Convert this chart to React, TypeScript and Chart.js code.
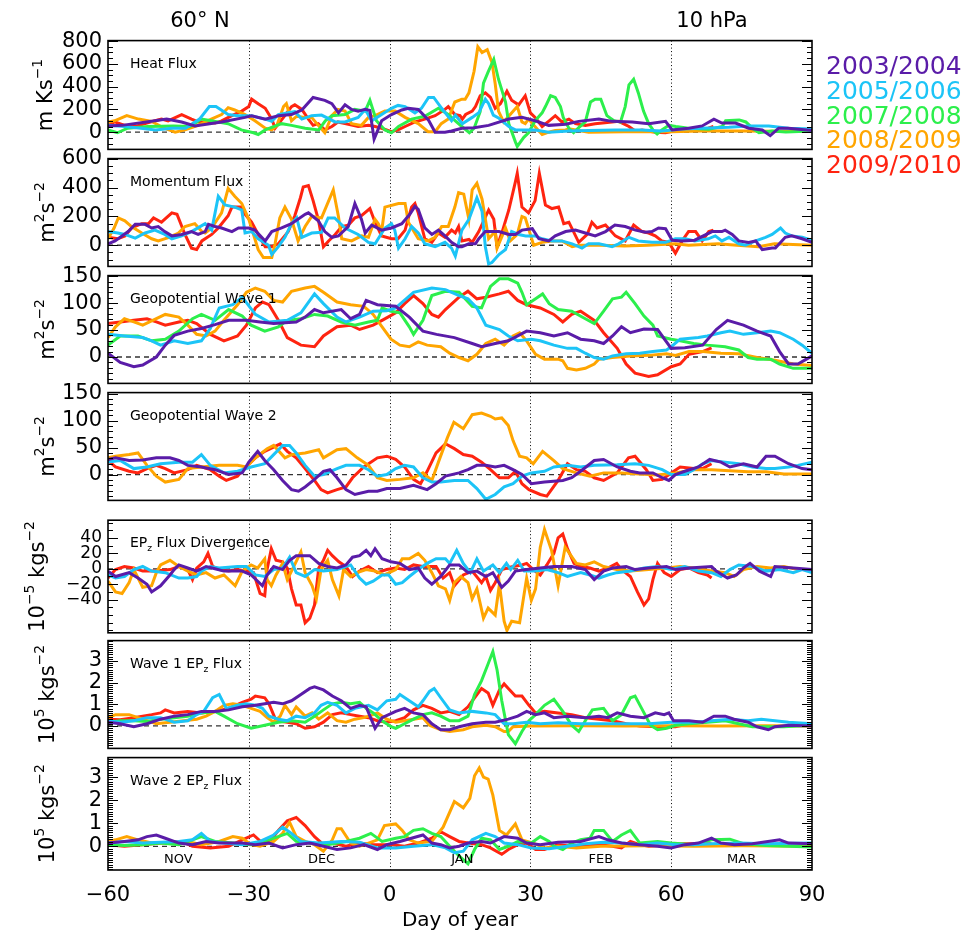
import React, { useEffect, useRef } from 'react';
import { Chart, registerables } from 'chart.js';
Chart.register(...registerables);

type Pt = [number, number];
type Seg = [string, number];

const FONT = 'DejaVu Sans';
const YEARS = ['2003/2004', '2005/2006', '2007/2008', '2008/2009', '2009/2010'];
const COLORS = ['#5a1ca8', '#1cc4f7', '#2cef4c', '#ffa500', '#ff2410'];
const X_TICKS = [-60, -30, 0, 30, 60, 90];
const DOTTED_DAYS = [-30, 0, 30, 60];
const MONTHS = ['NOV', 'DEC', 'JAN', 'FEB', 'MAR'];
const MONTH_DAYS = [-45, -14.5, 15.5, 45, 75];

// ---------- Heat Flux (m K s^-1) ----------
const heatP: Pt[] = [[-60,55],[-57,60],[-50,100],[-47.5,115],[-44.3,90],[-41.5,55],[-35.8,90],[-30.8,130],[-29.4,145],[-26.5,115],[-23.7,145],[-20.9,155],[-18.7,195],[-16.3,305],[-13.8,280],[-12.3,250],[-10.9,170],[-9.5,240],[-8.1,200],[-6.7,185],[-5.2,200],[-4.2,190],[-3.3,-60],[-1.7,100],[0.4,155],[2.6,195],[4,210],[6.1,200],[8.3,105],[9.7,0],[11.8,0],[13.2,10],[15.4,35],[18,40],[21.1,60],[25.4,115],[28.2,130],[31,100],[33.9,60],[37.5,70],[40.3,95],[44.6,115],[47.4,95],[51.7,90],[55.2,75],[58.8,95],[60.2,20],[63.7,35],[66.6,55],[69.1,115],[70.8,80],[73.7,80],[76.5,35],[79.4,20],[81.1,-30],[82.9,35],[85,35],[90,15]];
const heatC: Pt[] = [[-60,60],[-56.5,50],[-53,35],[-49.9,20],[-46.4,35],[-43.5,35],[-40.5,115],[-38.4,225],[-37,225],[-34.4,155],[-32.3,145],[-29.4,145],[-26.5,115],[-25.1,95],[-23.7,155],[-21.6,170],[-20.2,180],[-18.7,115],[-16.6,145],[-14.5,150],[-11.6,90],[-9.5,90],[-6.7,130],[-5.2,200],[-3.8,100],[-1.7,155],[0.4,210],[1.8,235],[3.3,225],[5.4,170],[6.8,210],[8.3,305],[9.4,305],[11.1,210],[13.2,100],[14,150],[15.5,75],[17.6,130],[19,170],[20.4,290],[21.1,250],[22.1,150],[23.2,125],[25.4,50],[26.8,20],[31,20],[33.9,0],[38.2,10],[42.4,15],[48,20],[53.7,20],[58,10],[62.3,27],[66.6,35],[72.3,43],[76.5,55],[80.8,55],[85,35],[90,27]];
const heatG: Pt[] = [[-60,20],[-58,-5],[-55.8,35],[-51.5,50],[-46,55],[-42.5,50],[-40.1,115],[-38,100],[-34.4,75],[-31.6,20],[-29,-5],[-28,-20],[-26.5,20],[-23,75],[-20.9,60],[-18,35],[-15.1,20],[-13.7,100],[-12.3,145],[-9.5,155],[-7.4,200],[-5.2,185],[-4.2,280],[-2.8,100],[-1,20],[0.4,-5],[1.9,50],[4.7,115],[7.5,140],[10.4,210],[12.5,155],[14,100],[15.4,50],[17,-5],[18,35],[19.3,180],[20,430],[21,530],[22.2,640],[23.2,465],[24.7,265],[25.4,75],[26.8,-85],[27.2,-125],[28.6,-45],[29.6,-5],[31,100],[32.5,170],[33.2,225],[34.3,320],[35.3,305],[36.4,225],[37,130],[38.2,35],[39.2,-5],[40.3,40],[41.7,90],[42.8,265],[43.8,290],[45,290],[46.3,145],[47.8,100],[49.2,90],[50.2,225],[51,415],[52,465],[53,345],[54.1,185],[55.2,75],[56.3,10],[57,-15],[58,20],[59.5,60],[61,50],[63.7,35],[68,25],[70.9,50],[71.6,100],[74.5,108],[75.9,90],[77.3,35],[78.7,-5],[81.5,10],[84.4,2],[90,10]];
const heatO: Pt[] = [[-60,90],[-58.6,100],[-56,145],[-53.5,115],[-50.7,95],[-48,35],[-45.7,0],[-43.6,20],[-40.8,60],[-38,115],[-35.8,155],[-34.4,215],[-33,195],[-30.8,155],[-28.7,100],[-26.5,35],[-25.1,20],[-24,60],[-22.6,225],[-22,250],[-20.9,100],[-19.8,140],[-18,130],[-16.6,130],[-15.2,60],[-13.8,-5],[-12.3,145],[-11,200],[-9.5,185],[-8.1,75],[-6,60],[-4.5,130],[-3.1,145],[-1,185],[1.2,185],[3.3,130],[6.1,75],[8.2,5],[9.7,5],[11,75],[12.5,115],[13.9,265],[15.4,290],[16.1,290],[16.9,345],[18,535],[18.8,750],[19.7,700],[20.8,725],[21.8,615],[22.5,425],[23.2,185],[24.3,90],[25.7,155],[27.2,225],[28.2,90],[28.9,75],[29.6,115],[31.8,10],[32.5,-20],[33.9,0],[35.3,15],[37.5,20],[38.2,30],[40.3,15],[42.4,0],[50,5],[60,5],[66.5,10],[75,10],[82,8],[90,8]];
const heatR: Pt[] = [[-60,60],[-58.6,90],[-56.4,60],[-54.2,50],[-52.1,75],[-50,100],[-48.6,115],[-47.2,100],[-44.3,155],[-42.2,115],[-40.8,90],[-39.4,90],[-37.2,80],[-35.8,100],[-33.6,145],[-31.5,185],[-30,225],[-29.4,290],[-28,250],[-26.5,210],[-25.1,115],[-24.4,35],[-22.6,130],[-20.9,225],[-20.2,240],[-18.7,200],[-17.3,115],[-16.3,60],[-15.2,75],[-13.8,20],[-12.3,50],[-11,90],[-9.5,75],[-6.7,50],[-4.5,60],[-3.1,50],[-1.7,35],[0.4,5],[1.8,20],[3.3,50],[5.4,90],[7.5,115],[9.7,145],[11.8,200],[12.5,225],[13.9,155],[15,145],[15.5,115],[16.2,155],[17.6,185],[18.3,225],[19.3,320],[20.4,345],[21.5,305],[22.5,210],[23.6,250],[25,360],[26,280],[27.5,240],[28.9,320],[30,170],[31,130],[32.5,50],[34,100],[35.3,145],[36.7,90],[38.2,115],[39.6,75],[41.7,60],[43.8,75],[47.4,90],[48.8,95],[51,50],[52.4,8],[53.8,20],[56.6,0],[58.8,-5],[61,15],[63.7,25],[65.1,20],[67.9,35],[69,50]];

// ---------- Momentum Flux (m^2 s^-2) ----------
const momP: Pt[] = [[-60,10],[-58.5,30],[-55.7,95],[-54.2,145],[-52.1,145],[-50.7,120],[-49.3,130],[-47.9,95],[-46.4,65],[-44.3,75],[-42.2,95],[-40.8,75],[-39.3,95],[-38.6,145],[-37.2,130],[-35.8,120],[-33.6,95],[-32.2,120],[-30,120],[-28.7,105],[-26.5,30],[-25.1,95],[-23,120],[-20.9,150],[-18,215],[-17.3,225],[-15.2,170],[-13.8,95],[-12.3,55],[-10.9,65],[-8.8,130],[-7.4,290],[-6,180],[-5.2,85],[-3.8,140],[-1.7,105],[0.4,120],[2.6,150],[4.3,215],[5.4,270],[6.1,250],[7.5,120],[9,75],[10.4,105],[11.8,65],[13.2,20],[14.7,-10],[15.4,-10],[16.9,10],[18.3,10],[19,45],[20.4,95],[23.3,95],[25.4,75],[26.8,75],[28.2,105],[30.4,115],[31.8,45],[33.9,30],[35.3,65],[37.5,95],[39.6,105],[41.7,85],[43.8,65],[46,95],[48,140],[50.2,130],[52.4,105],[54.5,90],[55.9,95],[57.3,120],[58.8,115],[60.2,35],[62.3,30],[65,35],[68.7,95],[70.8,95],[71.5,105],[73,75],[74.4,30],[76.5,20],[78,30],[79.4,-30],[81.5,-20],[82.2,-20],[84.3,55],[85.7,65],[87.9,45],[90,20]];
const momC: Pt[] = [[-60,95],[-57.9,85],[-56.4,75],[-54.2,50],[-52.1,85],[-50,105],[-47.9,75],[-46.4,45],[-44.3,65],[-42.2,95],[-39.3,150],[-37.9,105],[-36.5,340],[-35.1,280],[-33,265],[-31.5,245],[-30.8,85],[-29.4,95],[-28,45],[-25.8,0],[-25.1,-65],[-23.7,-10],[-22.3,55],[-20.9,150],[-19.8,190],[-18.7,55],[-16.6,85],[-14.5,90],[-13.1,190],[-11.7,190],[-9.5,120],[-6.7,75],[-4.5,20],[-3.1,10],[-1,120],[0.4,150],[1.1,105],[1.9,-20],[3.3,45],[4.7,130],[6.1,85],[7.5,10],[9.7,-10],[11.8,20],[13.2,-20],[14,-75],[15.4,105],[16.9,180],[18.6,330],[19.7,235],[20.4,-10],[21.1,-130],[21.8,-120],[23.3,-65],[24.7,-30],[26,95],[27.5,75],[29,65],[31,65],[32.5,45],[34.6,30],[36.7,30],[38.9,10],[41,-20],[42.4,10],[44.6,10],[47.4,-10],[48.8,10],[51,55],[53,30],[55.9,20],[58.8,20],[60.9,45],[63,45],[65,30],[67.9,45],[69.4,65],[70.8,30],[72.3,55],[74.4,10],[75.8,0],[78,30],[80.1,55],[81.5,75],[83.3,120],[84.3,85],[85.7,65],[87.9,55],[90,35]];
const momO: Pt[] = [[-60,45],[-58.7,120],[-57.8,190],[-56.4,170],[-55,130],[-52.8,85],[-50.7,45],[-49.3,30],[-47,55],[-45,85],[-43.6,130],[-41.5,150],[-40,95],[-39.3,85],[-37.9,120],[-35.8,225],[-34.4,395],[-33,340],[-31.5,290],[-30,180],[-28,-30],[-26.9,-85],[-25.1,-85],[-24.4,10],[-23.4,190],[-22.3,265],[-20.9,180],[-19.5,30],[-18,130],[-16.6,200],[-14.5,190],[-12,385],[-10.9,200],[-10.2,45],[-8.1,30],[-6,65],[-4.5,55],[-3.1,180],[-2.4,150],[-1.7,95],[-1,265],[1.9,290],[3.3,290],[4,160],[6.1,45],[8.2,30],[9.7,55],[11.1,130],[12.5,130],[13.9,265],[14.7,365],[15.8,355],[16.9,180],[17.6,385],[18.6,430],[19.7,320],[21.1,45],[22.5,95],[22.9,-20],[24.7,120],[25.7,30],[27.2,75],[28.2,200],[28.9,190],[30.7,0],[32.5,20],[34.6,30],[36.7,30],[38.9,-10],[40.3,0],[45,0],[50,-5],[55,0],[60.9,10],[63.7,0],[70,10],[74,0],[78.6,-10],[82,10],[90,0]];
const momR: Pt[] = [[-60,55],[-57.9,45],[-56.4,65],[-55,120],[-52.8,150],[-51.4,150],[-50.3,190],[-48.6,160],[-46.4,225],[-45.3,215],[-43.6,75],[-42.2,-20],[-41.1,-30],[-40,30],[-37.9,75],[-36.5,120],[-34.4,205],[-33.6,265],[-31.5,265],[-30.8,215],[-29.4,160],[-28,75],[-26.5,-10],[-25.1,-10],[-23.7,10],[-21.6,95],[-20.2,205],[-19,330],[-18.4,405],[-17.3,415],[-16.3,310],[-15.2,180],[-14.1,-10],[-13,30],[-11.6,75],[-10.2,130],[-8.8,140],[-7.4,190],[-6,205],[-4.2,255],[-3.1,160],[-1.7,65],[0.4,45],[1.8,45],[3.3,105],[4,190],[4.7,265],[5.4,290],[6.1,225],[7.5,45],[9,20],[10.4,85],[11.8,55],[13.2,105],[14,85],[14.7,130],[15.4,30],[16.9,40],[17.6,20],[19,95],[21.1,245],[22.2,180],[22.9,-10],[24,95],[25.4,245],[26.8,440],[27.2,500],[28.2,265],[29.6,225],[31,310],[31.9,500],[33.2,280],[34.6,255],[36,265],[37.1,150],[38.2,160],[40.3,20],[42.1,75],[43.1,160],[44.2,120],[46,140],[48.1,65],[50.2,30],[52,140],[53.8,95],[55.2,85],[56.6,65],[58,30],[59.5,20],[60.9,-55],[62.3,30],[63.7,95],[65.2,95],[66.6,30],[68,95],[69,105]];

// ---------- Geopotential Wave 1 (m^2 s^-2) ----------
const gw1P: Pt[] = [[-60,7],[-57.4,-10],[-54.5,-18],[-52.6,-15],[-49.7,0],[-47.8,22],[-45.9,40],[-43,48],[-40.1,53],[-37.2,60],[-34.3,68],[-30.5,68],[-27.6,65],[-24.7,62],[-19.9,65],[-18,74],[-16,88],[-14.1,82],[-10.3,88],[-8.3,71],[-6.4,79],[-5,105],[-2.6,97],[1.3,94],[4.2,74],[7.1,48],[10,42],[13.8,36],[17.6,25],[19.6,19],[22.5,25],[25.3,30],[29.2,48],[32.1,45],[35,39],[37.9,45],[40.7,33],[43.6,30],[45.6,25],[47.5,39],[49.4,56],[51.3,45],[54.2,52],[57.1,51],[60,16],[62.9,17],[66.7,22],[69.6,51],[72,68],[75.4,59],[78.3,48],[81.2,39],[83.1,10],[85,-13],[87,-13],[90,2]];
const gw1C: Pt[] = [[-60,42],[-56.5,39],[-52.6,36],[-50.7,30],[-48.8,22],[-45.9,30],[-43,25],[-40.1,30],[-38.2,53],[-36.3,91],[-33.4,97],[-31.4,111],[-28.6,79],[-25.7,65],[-21.8,68],[-18.9,82],[-16,117],[-14.1,99],[-11.2,74],[-9.3,65],[-6.4,74],[-3.5,85],[-0.6,86],[1.3,91],[5.1,120],[9,128],[11.9,125],[14.8,114],[16.7,108],[18.6,91],[20.5,59],[23.4,51],[25.3,39],[27.3,30],[30.2,33],[32.1,30],[35,22],[37.9,16],[39.8,16],[41.7,7],[43.6,-1],[45.6,-4],[47.5,2],[50.4,6],[53.3,7],[56.1,10],[59,13],[60,19],[61.9,33],[65.8,36],[67.7,39],[70.6,45],[72.5,48],[75.4,42],[78.3,45],[81.2,48],[83.1,45],[86,33],[87.9,22],[90,7]];
const gw1G: Pt[] = [[-60,22],[-57.4,39],[-53.6,39],[-50.7,30],[-47.8,33],[-44.9,48],[-42,71],[-40.1,79],[-37.2,68],[-34.3,88],[-31.4,76],[-29.5,59],[-26.6,48],[-23.7,56],[-21.8,68],[-18.9,71],[-16,79],[-13.2,76],[-10.3,65],[-7.4,59],[-4.5,65],[-2.6,68],[-1.6,91],[0.3,85],[2.2,82],[4.2,56],[5.1,42],[7.1,68],[9,114],[11.9,122],[14.8,120],[17.6,94],[19.6,91],[21.5,131],[23.4,145],[25.3,145],[27.3,137],[28.2,120],[29.2,97],[31.1,108],[32.6,117],[34,99],[35.9,88],[38.8,85],[41.7,71],[43.6,62],[45.6,85],[47.5,108],[49.4,111],[50.4,120],[52.3,99],[54.2,76],[56.1,59],[57.1,39],[60,33],[61.9,30],[64.8,25],[67.7,22],[71.5,19],[74.4,13],[76.4,-1],[78.3,-4],[81.2,-4],[83.1,-13],[86,-21],[90,-21]];
const gw1O: Pt[] = [[-60,36],[-58.4,56],[-56.5,71],[-54.5,65],[-52.6,59],[-49.7,71],[-47.8,79],[-44.9,74],[-43,59],[-41.1,42],[-39.1,39],[-37.2,48],[-35.3,68],[-32.4,97],[-30.5,120],[-28.6,128],[-26.6,122],[-24.7,105],[-22.8,102],[-20.9,122],[-18,128],[-16,131],[-14.1,120],[-11.2,102],[-8.3,97],[-5.5,94],[-3.5,79],[-1.6,56],[0.3,33],[2.2,22],[4.2,19],[6.1,28],[8,22],[10.9,19],[12.8,7],[14.8,-1],[16.7,-7],[18.6,5],[20.5,25],[22.5,33],[24.4,22],[26.3,39],[27.7,45],[29.2,30],[31.1,5],[33,-4],[35.9,-4],[36.9,-7],[37.9,-21],[39.8,-24],[41.7,-21],[43.6,-13],[44.6,-4],[47.5,-1],[51.3,2],[55.2,3],[59,6],[60.9,3],[63.8,10],[66.7,10],[70.6,7],[74.4,6],[78.3,-1],[82.1,-6],[86,-13],[90,-16]];
const gw1R: Pt[] = [[-60,62],[-57.4,65],[-54.5,68],[-51.7,71],[-49.7,65],[-47.8,59],[-44.9,65],[-43,68],[-41.1,62],[-38.2,42],[-35.3,30],[-32.4,39],[-30.5,59],[-28.6,91],[-27.1,102],[-25.7,97],[-23.7,68],[-21.8,36],[-18.9,22],[-16,19],[-14.1,39],[-11.2,56],[-8.3,59],[-6.4,51],[-3.5,59],[-1.6,68],[1.3,82],[3.2,99],[5.1,114],[7.1,99],[9,79],[10.4,74],[11.9,88],[14.8,111],[16.7,122],[18.6,108],[20.5,111],[23.4,117],[25.3,122],[27.3,105],[29.2,97],[32.1,91],[35,79],[36.9,65],[38.8,79],[40.7,85],[43.6,68],[45.6,45],[48.5,16],[50.4,-13],[52.3,-30],[55.2,-36],[57.1,-33],[60,-18],[61.9,-13],[63.8,5],[66.7,10],[68.6,17]];

// ---------- Geopotential Wave 2 (m^2 s^-2) ----------
const gw2P: Pt[] = [[-60,28],[-58.4,31],[-55.5,26],[-52.6,27],[-49.7,31],[-46.8,31],[-44.9,26],[-43,17],[-40.1,14],[-37.2,9],[-34.3,0],[-31.4,3],[-30,23],[-28.1,43],[-26.6,26],[-24.7,9],[-22.8,-11],[-20.9,-28],[-19.4,-31],[-18,-23],[-16,-9],[-14.1,6],[-12.7,9],[-11.2,-6],[-9.3,-28],[-7.4,-37],[-4.5,-31],[-2.6,-31],[-0.6,-26],[2.2,-26],[5.1,-20],[8,-28],[9.9,-17],[11.9,-3],[14.8,3],[16.7,9],[18.6,17],[20.5,17],[22.5,14],[24.4,17],[26.3,9],[28.2,0],[30.2,-17],[33,-14],[36.9,-11],[38.8,-6],[40.7,6],[43.6,26],[45.6,28],[48.5,14],[51.3,6],[53.3,3],[56.1,3],[58.1,-6],[59.5,-11],[60.9,0],[62.9,6],[65.8,14],[68.2,28],[70.6,23],[72.5,14],[75.4,20],[78.3,14],[80.2,34],[82.1,34],[85,20],[87.9,11],[90,9]];
const gw2C: Pt[] = [[-60,23],[-57.4,26],[-54.5,11],[-51.7,14],[-48.8,20],[-44.9,23],[-42,23],[-40.1,37],[-38.2,17],[-35.3,3],[-32.4,6],[-29.5,14],[-26.6,20],[-24.7,37],[-22.8,54],[-21.3,54],[-19.9,40],[-18,17],[-16,-3],[-14.1,0],[-11.2,11],[-9.3,17],[-6.4,17],[-4.5,9],[-2.6,-3],[-0.6,0],[1.3,11],[3.2,17],[5.1,14],[7.1,-6],[9,-14],[10.9,-14],[13.8,-11],[16.7,-11],[18.6,-26],[20.5,-46],[22.5,-37],[24.4,-23],[26.3,-17],[28.2,-3],[30.2,3],[33,6],[35,14],[37.9,17],[40.7,14],[43.6,17],[48.5,18],[52.3,20],[55.2,17],[58.1,9],[60,0],[62.9,0],[64.8,9],[66.7,20],[68.6,26],[71.5,23],[74.4,20],[77.3,14],[80.2,11],[82.1,11],[85,14],[87,17],[90,23]];
const gw2O: Pt[] = [[-60,31],[-58.4,34],[-55.5,37],[-53.6,40],[-51.7,17],[-49.7,-3],[-47.8,-14],[-44.9,-9],[-43,11],[-40.1,14],[-36.3,17],[-32.4,17],[-30.5,14],[-28.6,31],[-26.1,48],[-24.7,54],[-22.3,31],[-20.9,37],[-18,40],[-15.1,46],[-14.1,31],[-11.2,46],[-9.3,48],[-6.9,31],[-4.5,17],[-2.6,-6],[-0.6,-11],[2.2,-9],[5.1,-6],[7.1,3],[9,-11],[10.4,23],[12.3,68],[13.7,97],[15.7,85],[17.6,111],[19.6,114],[21.5,108],[22.5,103],[23.9,105],[25.3,91],[26.3,63],[27.7,34],[29.2,31],[30.6,20],[32.6,43],[35,26],[36.9,11],[39.8,3],[42.7,-3],[45.6,3],[49.4,3],[53.3,1],[57.1,-1],[60.9,3],[64.8,9],[68.6,9],[72.5,7],[76.4,5],[80.2,5],[84,1],[90,1]];
const gw2R: Pt[] = [[-60,26],[-58.4,14],[-55.5,6],[-53.6,3],[-51.7,11],[-49.7,17],[-47.8,11],[-45.9,3],[-43,9],[-41.1,17],[-38.2,9],[-36.3,-3],[-34.8,-11],[-32.4,-3],[-31,11],[-28.6,31],[-26.6,43],[-23.3,57],[-21.8,43],[-19.9,31],[-18,11],[-16,-11],[-14.6,-28],[-13.2,-34],[-11.2,-28],[-9.3,-23],[-7.9,-6],[-5.5,14],[-2.6,31],[-0.6,34],[1.3,28],[3.2,14],[5.1,-9],[6.6,-17],[8,6],[9.9,40],[11.9,57],[13.8,48],[15.7,37],[17.6,34],[19.6,23],[21.5,9],[23.4,-6],[25.3,-6],[26.8,6],[28.2,-17],[29.7,-28],[32.1,-37],[33.5,-40],[35.9,-11],[37.9,20],[39.8,9],[41.7,6],[43.6,-6],[45.6,-11],[48.5,3],[50.9,31],[52.3,34],[54.7,9],[56.1,-11],[58.1,-9],[60,3],[61.9,14],[64.8,11],[66.7,11],[68.6,20]];

// ---------- EPz Flux Divergence (10^-5 kg s^-2) ----------
const divP: Pt[] = [[-60,-3],[-58.4,-10],[-55.5,-5],[-53.6,-12],[-51.7,-20],[-50.7,-30],[-48.8,-22],[-46.8,-8],[-45.9,-1],[-44.9,5],[-43,1],[-41.1,-3],[-39.1,3],[-37.2,0],[-35.3,-3],[-31.4,-3],[-29.5,-8],[-27.1,-22],[-26.1,-8],[-24.7,3],[-22.8,-1],[-21.3,11],[-19.9,17],[-17,17],[-15.1,7],[-13.2,3],[-11.2,1],[-9.3,5],[-7.9,15],[-6.4,17],[-5,24],[-4,17],[-3.1,26],[-1.6,13],[0.3,9],[2.2,7],[4.2,-1],[6.1,1],[7.5,-12],[9,-20],[10.9,-10],[12.8,5],[14.8,5],[16.7,-5],[18.6,-3],[20.5,-10],[22,-5],[23.9,-24],[25.3,-16],[26.8,-3],[29.2,-1],[32.1,1],[35,3],[38.8,3],[41.7,-1],[43.6,-14],[45.6,-3],[47.5,1],[50.4,3],[52.3,-1],[55.2,1],[59,3],[60.9,-1],[63.8,1],[68.6,3],[69.6,-3],[72,-12],[73.9,-8],[75.4,1],[76.8,7],[78.8,-3],[81.2,-10],[82.1,3],[86,1],[90,-1]];
const divC: Pt[] = [[-60,-8],[-58.4,-12],[-56.5,-10],[-54.5,-1],[-52.6,3],[-50.7,-3],[-47.8,-5],[-44.9,-12],[-43,-12],[-41.1,-10],[-40.1,-3],[-38.2,3],[-36.3,1],[-32.4,3],[-30.5,3],[-28.6,-8],[-26.6,-10],[-24.7,-1],[-22.8,1],[-21.3,15],[-19.9,-5],[-18,-10],[-16,-1],[-14.1,-3],[-11.2,-1],[-8.3,5],[-6.4,-12],[-5,-20],[-3.5,-16],[-1.6,-8],[-0.2,-8],[1.3,-20],[2.7,-18],[4.2,-10],[6.1,-1],[8,7],[9.9,13],[11.9,13],[12.8,7],[14.3,24],[15.7,7],[17.2,-5],[18.6,13],[20,-3],[22,5],[23.4,-5],[24.9,7],[25.8,-1],[27.3,11],[28.7,-3],[31.1,-3],[33.5,-1],[35.9,-5],[37.9,-10],[40.7,-5],[42.7,-8],[44.6,-12],[46.5,-8],[48.4,-5],[51.3,-3],[54.2,1],[57.1,3],[60,-1],[62.9,3],[65.8,-3],[68.6,-5],[70.6,-10],[72.5,-1],[74.4,5],[77.3,3],[80.2,-3],[83.1,-1],[86,-5],[87.9,-1],[90,-5]];
const divO: Pt[] = [[-60,-16],[-58.4,-30],[-57,-32],[-55.5,-18],[-54.5,-1],[-53.6,-12],[-52.6,-24],[-50.7,-22],[-49.7,-5],[-48.8,5],[-46.8,11],[-44.9,3],[-43,-3],[-41.1,-8],[-39.1,-5],[-37.2,-12],[-35.3,-8],[-32.9,-22],[-31.4,-3],[-29.5,5],[-28.1,1],[-26.6,13],[-26.1,-14],[-25.2,-22],[-24.2,-8],[-22.8,7],[-21.8,-14],[-20.9,-3],[-18.9,22],[-18,-5],[-16.5,-22],[-15.6,-39],[-14.6,-1],[-13.2,11],[-12.2,-14],[-10.8,-35],[-9.8,-1],[-8.3,-10],[-6.9,-5],[-5,-1],[-3.1,-3],[-1.1,-8],[1.3,-1],[2.7,13],[4.2,13],[6.1,20],[7.5,11],[9,-5],[10.4,-22],[11.9,-26],[12.8,-41],[13.8,-18],[15.2,-10],[16.7,-18],[17.6,-39],[18.6,-26],[20,-64],[21,-51],[22.5,-60],[23.4,-20],[24.4,-68],[25,-80],[26,-68],[27.7,-70],[29.2,-12],[30.2,-41],[31.1,-26],[32.1,28],[33,51],[34.5,24],[35.9,-22],[37.4,28],[39.8,7],[41.7,5],[43.6,9],[45.6,3],[48.4,-1],[51.3,-3],[55.2,-1],[59,1],[61.9,3],[64.8,1],[68.6,-3],[71.5,-5],[73.4,-10],[75.4,-1],[78.3,3],[81.2,1],[84,3],[87,-1],[90,-1]];
const divR: Pt[] = [[-60,-12],[-58.4,-1],[-56.5,3],[-54.5,1],[-52.6,-3],[-49.7,-3],[-46.8,-1],[-44.9,3],[-43,-1],[-42,-14],[-41.1,1],[-39.6,9],[-38.7,20],[-37.7,3],[-36.3,-1],[-34.3,-3],[-32.4,-1],[-30.5,-3],[-29,-5],[-27.6,-32],[-26.6,-35],[-26.1,-1],[-25.2,26],[-24.2,11],[-22.8,9],[-21.8,1],[-20.9,-26],[-19.9,-47],[-18.9,-47],[-18,-70],[-17,-64],[-16,-47],[-15.1,1],[-14.1,11],[-13.2,24],[-12.2,17],[-10.8,9],[-9.3,3],[-7.9,-10],[-6.4,-3],[-4.5,3],[-2.6,-5],[-0.6,-1],[1.3,1],[3.2,-1],[5.1,5],[7.1,3],[9.9,3],[11.4,-12],[12.8,-5],[13.8,-22],[15.7,-8],[17.6,-3],[19.6,-18],[20.5,-10],[21.5,-28],[22.5,-18],[23.9,-1],[26.3,3],[28.2,5],[29.2,7],[30.6,-1],[32.1,-8],[33.5,5],[35,20],[35.9,40],[36.9,45],[37.9,26],[39.3,7],[40.7,3],[42.7,1],[44.6,-3],[46.5,1],[48.4,7],[49.4,-1],[51.3,-10],[52.8,-30],[54.2,-47],[55.2,-39],[56.1,-14],[57.1,7],[58.5,-5],[60,-10],[61.9,-1],[63.8,1],[65.8,-5],[67.7,-8],[68.6,-12]];

// ---------- Wave 1 EPz Flux (10^5 kg s^-2) ----------
const w1P: Pt[] = [[-60,0.17],[-57.4,0.1],[-54.5,-0.04],[-51.7,0.1],[-48.8,0.31],[-45.9,0.45],[-43,0.52],[-40.1,0.67],[-37.2,0.67],[-34.3,0.74],[-31.4,0.88],[-28.6,0.95],[-26.6,1.02],[-24.7,1.09],[-22.8,1.02],[-20.9,1.16],[-18.9,1.45],[-17,1.73],[-16,1.8],[-14.1,1.66],[-12.2,1.38],[-10.3,1.16],[-8.3,0.81],[-6.4,0.95],[-5,0.88],[-3.1,-0.11],[-1.6,0.38],[1.3,0.67],[3.2,0.81],[5.1,0.6],[7.1,0.52],[9,0.1],[10.9,-0.18],[12.8,-0.18],[14.8,-0.04],[17.6,0.1],[20.5,0.17],[22.5,0.17],[25.3,0.31],[27.3,0.45],[29.2,0.67],[31.1,0.52],[33,0.6],[35,0.38],[37.9,0.45],[41.7,0.38],[44.6,0.45],[46.5,0.38],[48.5,0.6],[51.3,0.45],[54.2,0.38],[56.6,0.6],[58.5,0.52],[59.5,0.6],[60.5,0.24],[63.8,0.24],[66.7,0.17],[69.1,0.45],[71.5,0.45],[73.4,0.31],[76.4,0.17],[78.3,-0.04],[80.7,-0.18],[82.1,-0.04],[85,0.03],[90,0]];
const w1C: Pt[] = [[-60,0.24],[-57.4,0.17],[-54.5,0.24],[-51.7,0.38],[-48.8,0.38],[-45.9,0.17],[-43,0.24],[-41.1,0.52],[-39.6,0.67],[-37.7,1.3],[-36.3,1.45],[-34.8,0.81],[-32.4,0.95],[-30.5,1.02],[-28.6,0.95],[-27.1,0.81],[-25.7,0.45],[-23.7,0.31],[-21.8,0.24],[-19.9,0.45],[-18,0.38],[-16,0.6],[-14.6,0.95],[-13.2,1.09],[-11.2,0.95],[-9.3,0.6],[-7.4,0.81],[-4.5,0.95],[-2.6,0.74],[-0.6,1.16],[1.3,1.23],[2.2,1.45],[4.2,1.16],[6.1,0.88],[7.1,1.16],[8.5,1.59],[9.5,1.73],[10.9,1.3],[12.8,0.74],[14.8,0.6],[17.6,0.67],[20.5,0.6],[22.5,0.52],[24.4,0.1],[26.3,0.1],[29.2,0.17],[32.1,0.1],[35.9,0.14],[40.7,0.1],[45.6,0.1],[50.4,0.1],[55.2,0.1],[60,0.17],[64.8,0.17],[68.6,0.24],[72.5,0.31],[76.4,0.24],[79.2,0.31],[82.1,0.24],[85,0.17],[90,0.1]];
const w1G: Pt[] = [[-60,0.17],[-57.4,0.24],[-54.5,0.24],[-51.7,0.2],[-48.8,0.31],[-45.9,0.38],[-43,0.45],[-40.1,0.6],[-37.2,0.67],[-35.3,0.45],[-32.4,0.1],[-29.5,-0.11],[-26.6,0.03],[-23.7,0.17],[-20.9,0.24],[-18,0.17],[-16,0.45],[-14.1,0.74],[-12.2,1.02],[-10.3,1.09],[-8.3,1.02],[-6.4,1.09],[-5,0.81],[-3.5,0.6],[-1.6,0.24],[0.3,-0.04],[1.3,-0.11],[3.2,0.1],[5.1,0.31],[7.1,0.52],[9,0.6],[10.9,0.45],[12.8,0.24],[14.8,0.24],[16.7,0.45],[18.1,1.45],[19.6,2.09],[21,2.87],[22,3.43],[22.9,2.58],[23.9,1.16],[25.3,-0.4],[26.8,-0.82],[28.2,-0.26],[29.7,0.24],[31.1,0.52],[33,0.95],[35,1.23],[36.9,0.67],[38.8,0.03],[40.3,-0.26],[41.7,0.24],[43.2,0.74],[45.6,0.81],[47.5,0.24],[49.4,0.52],[51.3,1.3],[52.3,1.38],[53.7,0.81],[55.6,0.03],[57.1,-0.18],[59,-0.11],[60.9,0.03],[63.8,0.1],[67.7,0.17],[71.5,0.24],[74.4,0.1],[77.3,-0.04],[84,-0.04],[90,0.03]];
const w1O: Pt[] = [[-60,0.38],[-58.4,0.52],[-55.5,0.52],[-52.6,0.31],[-49.7,0.1],[-46.8,0.17],[-43.9,0.24],[-41.1,0.31],[-39.1,0.45],[-37.2,0.67],[-35.3,0.95],[-33.4,1.02],[-31.4,0.95],[-29.5,0.81],[-27.6,0.67],[-26.1,0.38],[-24.7,0.17],[-23.3,0.45],[-22.3,0.95],[-20.9,0.52],[-19.9,0.88],[-18,0.45],[-16.5,0.6],[-15.1,0.31],[-13.2,0.6],[-11.2,0.24],[-9.3,0.17],[-7.4,0.31],[-5.5,0.38],[-3.5,0.52],[-2.6,0.6],[-0.6,0.31],[1.3,0.17],[3.2,0.24],[5.1,0.31],[7.1,0.38],[8.5,0.03],[10.9,-0.18],[12.8,-0.26],[15.7,-0.18],[17.6,-0.04],[20.5,0.03],[22.5,-0.04],[24.4,-0.26],[25.3,-0.26],[26.3,-0.04],[30,0],[40,0.01],[50,0],[60,0.01],[70,0],[80,0.01],[90,0]];
const w1R: Pt[] = [[-60,0.31],[-57.4,0.28],[-54.5,0.38],[-52.6,0.45],[-50.7,0.52],[-48.8,0.6],[-47.8,0.74],[-45.9,0.6],[-43,0.67],[-40.1,0.6],[-37.2,0.67],[-34.3,0.81],[-31.4,1.09],[-29.5,1.23],[-28.6,1.38],[-26.6,1.3],[-25.7,1.02],[-24.2,0.24],[-21.8,0.17],[-19.9,0.1],[-18,-0.11],[-16,-0.04],[-14.1,0.17],[-12.2,0.52],[-10.3,0.6],[-8.3,0.52],[-6.4,0.45],[-4.5,0.38],[-2.6,0.24],[-0.6,0.17],[1.3,0.24],[3.2,0.38],[5.1,0.74],[7.1,0.95],[9,0.81],[10.9,0.6],[12.8,0.67],[14.8,0.52],[16.7,0.88],[18.1,1.3],[19.6,1.73],[21,1.52],[22,0.95],[23.4,1.66],[24.4,1.94],[25.3,1.73],[26.8,1.38],[28.2,1.38],[29.7,0.95],[31.1,0.6],[33,0.67],[35.9,0.6],[38.8,0.52],[41.7,0.38],[44.6,0.31],[47.5,0.24],[50.4,0.1],[53.3,0],[57.1,-0.04],[60.9,-0.04],[63.8,0.1],[66.7,0.17],[68.6,0.24]];

// ---------- Wave 2 EPz Flux (10^5 kg s^-2) ----------
const w2P: Pt[] = [[-60,0.14],[-56.5,0.21],[-53.6,0.28],[-51.7,0.42],[-49.7,0.49],[-47.8,0.35],[-44.9,0.14],[-42,0.07],[-39.1,0.21],[-36.3,0.14],[-31.4,0.14],[-28.6,0.07],[-25.7,0.14],[-22.8,-0.07],[-19.9,0.07],[-17,0.14],[-14.1,0],[-11.2,-0.14],[-8.3,-0.07],[-5.5,0.07],[-2.6,-0.14],[-0.6,0.07],[2.2,0.21],[7.1,0.49],[9,0.14],[10.9,0.07],[12.8,-0.07],[14.8,0],[16.7,0.14],[19.6,0.21],[21.5,0.14],[24.4,0.42],[27.3,0.35],[29.2,0.14],[32.1,0.07],[35.9,0.17],[40.7,0.21],[44.6,0.42],[46.5,0.28],[49.4,0.14],[53.3,0.07],[57.1,0],[60,-0.07],[62.9,0.07],[65.8,0.14],[68.6,0.35],[70.6,0.14],[73.5,0.07],[77.3,0.11],[83.1,0.28],[85,0.14],[90,0.11]];
const w2C: Pt[] = [[-60,0.14],[-56.5,0.21],[-52.6,0.14],[-48.8,0.17],[-44.9,0.21],[-42,0.28],[-40.1,0.56],[-38.2,0.21],[-35.3,0.14],[-31.4,0.07],[-27.6,0.21],[-24.7,0.49],[-22.8,0.83],[-20.9,0.56],[-18.9,0.21],[-15.1,0.14],[-10.3,0.21],[-6.4,0.17],[-2.6,-0.07],[1.3,-0.07],[5.1,0],[9,0.07],[11.9,-0.07],[13.8,-0.28],[15.7,-0.21],[17.6,0.28],[20.5,0.56],[22.5,0.42],[24.4,0.14],[27.3,0.07],[30.2,-0.07],[34,-0.11],[37.9,0],[41.7,0.11],[45.6,0.17],[49.4,0.14],[53.3,0.07],[57.1,0.14],[60.9,0.07],[64.8,0.07],[68.6,0.11],[74.4,0.14],[80.2,0.11],[90,0.14]];
const w2G: Pt[] = [[-60,0.07],[-56.5,0.03],[-52.6,0.07],[-48.8,0.14],[-44.9,0.07],[-42,0.28],[-40.1,0.42],[-37.2,0.21],[-33.4,0.14],[-29.5,0.07],[-25.7,0.28],[-21.8,0.56],[-19.9,0.21],[-17,0.14],[-13.2,0.07],[-9.3,0.21],[-6.4,0.35],[-4,0.56],[-1.6,0.21],[1.3,0.35],[3.2,0.42],[5.1,0.69],[7.1,0.76],[9,0.56],[10.9,0.42],[12.8,0],[14.8,-0.42],[16.7,-0.76],[18.1,-0.14],[19.6,0.35],[21.5,0.28],[23.4,-0.14],[25.3,0],[27.3,0.21],[30.2,0.14],[32.1,0.42],[34,0.21],[35,0],[36.9,-0.14],[38.8,0.14],[40.7,0.28],[42.7,0.35],[43.6,0.69],[45.6,0.69],[47.5,0.21],[49.4,0.49],[51.3,0.69],[53.3,0.14],[57.1,0.21],[60,0.14],[64.8,0.07],[68.6,0.28],[72.5,0.31],[75.4,0.11],[80.2,0.03],[90,-0.03]];
const w2O: Pt[] = [[-60,0.21],[-58.4,0.28],[-56,0.42],[-53.6,0.28],[-50.7,0.14],[-46.8,0.14],[-43,0.21],[-40.1,0.07],[-36.3,0.21],[-33.4,0.42],[-31.4,0.35],[-29.5,0.07],[-27.6,0],[-24.7,0.21],[-22.8,0.56],[-21.3,1.04],[-19.9,0.42],[-18,0.21],[-16,0.07],[-14.1,-0.21],[-12.2,0.28],[-11.2,0.76],[-10.3,0.76],[-8.3,0.14],[-6.4,0],[-4.5,0.14],[-2.6,0.28],[-1.1,0.9],[1.3,0.97],[2.7,0.69],[4.2,0.28],[6.1,0.14],[9,0.21],[11.4,0.83],[13.8,1.94],[15.7,1.67],[17.1,2.08],[18.1,3.06],[19.1,3.4],[20,3.0],[21,2.92],[22,2.22],[23.4,0.69],[24.9,0.49],[26.8,0.97],[28.2,0.28],[30.6,0.14],[33,-0.07],[35.9,0],[39.8,-0.07],[45,0],[55,0.02],[65,0],[75,0.02],[90,0]];
const w2R: Pt[] = [[-60,0.07],[-56.5,0],[-52.6,0.07],[-48.8,0.14],[-44.4,0.21],[-42,0],[-38.2,-0.07],[-34.3,0],[-31.4,0.28],[-29,0.49],[-27.1,0.14],[-25.2,0.28],[-23.7,0.69],[-21.8,1.11],[-19.9,1.25],[-18,0.9],[-16,0.42],[-14.1,0.07],[-12.2,0.14],[-9.3,0],[-6.4,0.14],[-3.5,0.07],[0.3,0.07],[3.2,0],[6.1,0.14],[9,0.35],[10.9,0.63],[12.8,0.42],[14.8,0.21],[16.7,0.14],[19.6,0.07],[21.5,-0.07],[23.9,-0.35],[25.3,-0.14],[27.3,0.07],[29.2,0.14],[31.1,-0.14],[33,-0.14],[35.9,0.07],[38.8,0],[41.7,0],[44.6,0.07],[47.5,0],[49.4,-0.07],[51.3,0.21],[53.3,0.07],[55.2,0],[59,0.07],[62.9,0.11],[68.6,0.11]];

// ---------- layout constants ----------
const CW = 840;           // canvas width
const PLOT_LEFT = 108;    // left edge of plot frame
const PLOT_RIGHT = 812;   // right edge of plot frame
const PAD = 14;
const X_AXIS_H = 66;

interface PanelSpec {
  top: number; bottom: number; min: number; max: number;
  major: number[]; minor: number;
  label: Seg[]; title: Seg[]; titleX: number;
  series: (Pt[] | null)[];
  tickSize?: number;
  last?: boolean;
}

const PANELS: PanelSpec[] = [
  { top: 36, bottom: 154, min: -151, max: 804, major: [0, 200, 400, 600, 800], minor: 50,
    label: [['Heat Flux', 0]], title: [['m Ks', 0], ['−1', 1]], titleX: 44,
    series: [heatP, heatC, heatG, heatO, heatR] },
  { top: 154, bottom: 271, min: -147, max: 602, major: [0, 200, 400, 600], minor: 50,
    label: [['Momentum Flux', 0]], title: [['m', 0], ['2', 1], ['s', 0], ['−2', 1]], titleX: 46,
    series: [momP, momC, null, momO, momR] },
  { top: 271, bottom: 388, min: -49, max: 151, major: [0, 50, 100, 150], minor: 10,
    label: [['Geopotential Wave 1', 0]], title: [['m', 0], ['2', 1], ['s', 0], ['−2', 1]], titleX: 46,
    series: [gw1P, gw1C, gw1G, gw1O, gw1R] },
  { top: 388, bottom: 505, min: -48, max: 152, major: [0, 50, 100, 150], minor: 10,
    label: [['Geopotential Wave 2', 0]], title: [['m', 0], ['2', 1], ['s', 0], ['−2', 1]], titleX: 46,
    series: [gw2P, gw2C, null, gw2O, gw2R] },
  { top: 518, bottom: 635, min: -83, max: 63, major: [-40, -20, 0, 20, 40], minor: 10,
    label: [['EP', 0], ['z', -1], [' Flux Divergence', 0]], title: [['10', 0], ['−5', 1], [' kgs', 0], ['−2', 1]], titleX: 36,
    series: [divP, divC, null, divO, divR], tickSize: 17 },
  { top: 636, bottom: 753, min: -1.04, max: 3.94, major: [0, 1, 2, 3], minor: 0.1,
    label: [['Wave 1 EP', 0], ['z', -1], [' Flux', 0]], title: [['10', 0], ['5', 1], [' kgs', 0], ['−2', 1]], titleX: 46,
    series: [w1P, w1C, w1G, w1O, w1R] },
  { top: 753, bottom: 870, min: -1.03, max: 3.85, major: [0, 1, 2, 3], minor: 0.1,
    label: [['Wave 2 EP', 0], ['z', -1], [' Flux', 0]], title: [['10', 0], ['5', 1], [' kgs', 0], ['−2', 1]], titleX: 46,
    series: [w2P, w2C, w2G, w2O, w2R], last: true },
];

const fmt = (v: number) => (v < 0 ? '−' + Math.abs(v) : String(v));

function drawRich(ctx: CanvasRenderingContext2D, segs: Seg[], x: number, y: number, size: number, rotate: boolean, center: boolean) {
  ctx.save();
  ctx.translate(x, y);
  if (rotate) ctx.rotate(-Math.PI / 2);
  const sizes = segs.map(([, k]) => (k ? size * 0.66 : size));
  const widths = segs.map(([t], i) => { ctx.font = `${sizes[i]}px "${FONT}"`; return ctx.measureText(t).width; });
  const total = widths.reduce((a, b) => a + b, 0);
  let cx = center ? -total / 2 : 0;
  ctx.fillStyle = '#000';
  ctx.textBaseline = 'alphabetic';
  const base = size * 0.36;
  segs.forEach(([t, k], i) => {
    ctx.font = `${sizes[i]}px "${FONT}"`;
    const dy = k === 1 ? -size * 0.45 : k === -1 ? size * 0.28 : 0;
    ctx.fillText(t, cx, base + dy);
    cx += widths[i];
  });
  ctx.restore();
}

function Panel({ spec }: { spec: PanelSpec }) {
  const ref = useRef<HTMLCanvasElement | null>(null);
  const h = spec.bottom - spec.top + 2 * PAD + (spec.last ? X_AXIS_H : 0);
  useEffect(() => {
    const cv = ref.current;
    if (!cv) return;
    const deco = {
      id: 'deco',
      beforeDatasetsDraw(chart: any) {
        const { ctx, chartArea: a, scales } = chart;
        const x = scales.x, y = scales.y;
        ctx.save();
        ctx.strokeStyle = '#000';
        ctx.lineWidth = 1;
        ctx.setLineDash([1, 2.5]);
        DOTTED_DAYS.forEach((d) => {
          const px = Math.round(x.getPixelForValue(d)) + 0.5;
          ctx.beginPath(); ctx.moveTo(px, a.top); ctx.lineTo(px, a.bottom); ctx.stroke();
        });
        ctx.setLineDash([5, 4]);
        ctx.strokeStyle = '#333';
        ctx.lineWidth = 1.3;
        const py = y.getPixelForValue(0);
        ctx.beginPath(); ctx.moveTo(a.left, py); ctx.lineTo(a.right, py); ctx.stroke();
        ctx.restore();
      },
      afterDatasetsDraw(chart: any) {
        const { ctx, chartArea: a, scales } = chart;
        const x = scales.x, y = scales.y;
        ctx.save();
        ctx.setLineDash([]);
        ctx.strokeStyle = '#000';
        ctx.lineWidth = 1.6;
        ctx.strokeRect(a.left, a.top, a.right - a.left, a.bottom - a.top);
        ctx.lineWidth = 1;
        const k0 = Math.ceil(spec.min / spec.minor - 1e-6);
        const k1 = Math.floor(spec.max / spec.minor + 1e-6);
        ctx.beginPath();
        for (let k = k0; k <= k1; k++) {
          const v = k * spec.minor;
          const isMajor = spec.major.some((m) => Math.abs(m - v) < spec.minor * 0.01);
          const len = isMajor ? 10 : 5;
          const py = Math.round(y.getPixelForValue(v)) + 0.5;
          ctx.moveTo(a.left, py); ctx.lineTo(a.left + len, py);
          ctx.moveTo(a.right, py); ctx.lineTo(a.right - len, py);
        }
        ctx.stroke();
        drawRich(ctx, spec.label, a.left + 22, a.top + 22, 14, false, false);
        drawRich(ctx, spec.title, spec.titleX, (a.top + a.bottom) / 2, 21, true, true);
        if (spec.last) {
          ctx.font = `13px "${FONT}"`;
          ctx.fillStyle = '#000';
          ctx.textAlign = 'center';
          ctx.textBaseline = 'middle';
          MONTHS.forEach((m, i) => ctx.fillText(m, x.getPixelForValue(MONTH_DAYS[i]), a.bottom - 10));
        }
        ctx.restore();
      },
    };
    const datasets = spec.series
      .map((s, i) => (s ? {
        label: YEARS[i],
        data: s.map(([dx, dy]) => ({ x: dx, y: dy })),
        borderColor: COLORS[i],
        backgroundColor: COLORS[i],
        borderWidth: 3,
        pointRadius: 0,
        tension: 0,
        fill: false,
      } : null))
      .filter(Boolean) as any[];
    const tickFont = { family: FONT, size: 21 };
    const yTickFont = { family: FONT, size: spec.tickSize || 21 };
    const xScale: any = {
      type: 'linear', min: -60, max: 90, display: !!spec.last,
      afterBuildTicks: (s: any) => { s.ticks = X_TICKS.map((v) => ({ value: v })); },
      grid: { display: false, drawTicks: false },
      border: { display: false },
      ticks: { font: tickFont, color: '#000', padding: 13, maxRotation: 0, autoSkip: false, callback: (v: any) => fmt(Number(v)) },
      title: { display: true, text: 'Day of year', font: { family: FONT, size: 20 }, color: '#000', padding: { top: 0, bottom: 3 } },
    };
    if (spec.last) xScale.afterFit = (s: any) => { s.height = X_AXIS_H; };
    const chart = new Chart(cv, {
      type: 'line',
      data: { datasets },
      options: {
        animation: false,
        responsive: false,
        maintainAspectRatio: false,
        events: [],
        layout: { padding: { top: PAD, bottom: PAD, left: 0, right: CW - PLOT_RIGHT } },
        plugins: { legend: { display: false }, tooltip: { enabled: false } },
        scales: {
          x: xScale,
          y: {
            type: 'linear', min: spec.min, max: spec.max,
            afterBuildTicks: (s: any) => { s.ticks = spec.major.map((v) => ({ value: v })); },
            afterFit: (s: any) => { s.width = PLOT_LEFT; },
            grid: { display: false, drawTicks: false },
            border: { display: false },
            ticks: { font: yTickFont, color: '#000', padding: 6, autoSkip: false, callback: (v: any) => fmt(Number(v)) },
          },
        },
      } as any,
      plugins: [deco],
    });
    return () => chart.destroy();
  }, [spec]);
  return (
    <canvas
      ref={ref}
      width={CW}
      height={h}
      style={{ position: 'absolute', left: 0, top: spec.top - PAD, width: CW, height: h }}
    />
  );
}

export default function App() {
  const textStyle: React.CSSProperties = { position: 'absolute', fontFamily: FONT, color: '#000', whiteSpace: 'nowrap' };
  return (
    <div style={{ position: 'absolute', left: 0, top: 0, width: 968, height: 937, background: '#fff', overflow: 'hidden' }}>
      {PANELS.map((p, i) => <Panel key={i} spec={p} />)}
      <div style={{ ...textStyle, left: 140, top: 7, width: 120, textAlign: 'center', fontSize: 21, lineHeight: '26px' }}>60° N</div>
      <div style={{ ...textStyle, left: 652, top: 7, width: 120, textAlign: 'center', fontSize: 21, lineHeight: '26px' }}>10 hPa</div>
      {YEARS.map((yr, i) => (
        <div key={yr} style={{ ...textStyle, left: 826, top: 52 + i * 24.8, fontSize: 25, lineHeight: '28px', color: COLORS[i] }}>{yr}</div>
      ))}
    </div>
  );
}
